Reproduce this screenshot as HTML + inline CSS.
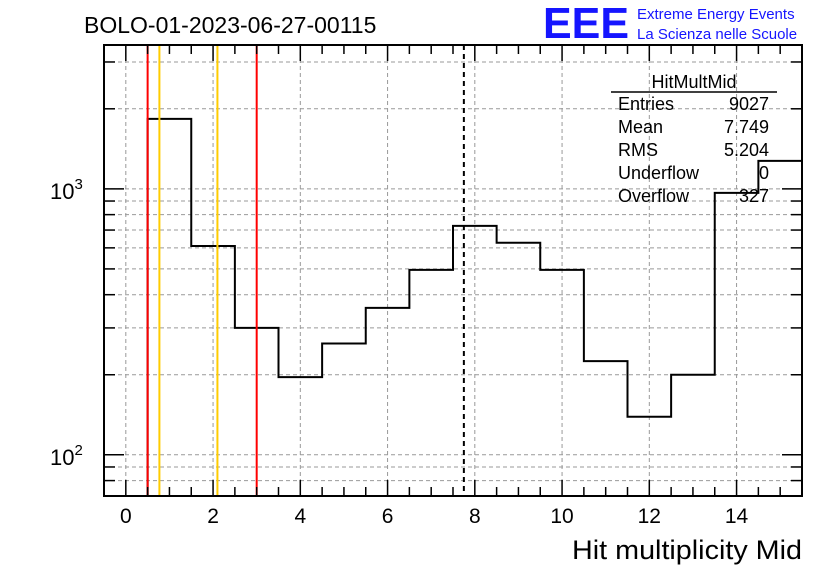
<!DOCTYPE html>
<html><head><meta charset="utf-8"><style>
body{margin:0;background:#fff;}
svg{display:block;font-family:"Liberation Sans",sans-serif;}
</style></head><body>
<svg id="c" width="836" height="572" viewBox="0 0 836 572">
<text x="84" y="33" font-size="23">BOLO-01-2023-06-27-00115</text>
<text x="543" y="38" font-size="44" font-weight="bold" fill="#1515ff" textLength="86" lengthAdjust="spacingAndGlyphs">EEE</text>
<text x="637" y="19" font-size="15" fill="#1515ff">Extreme Energy Events</text>
<text x="637" y="39" font-size="15" fill="#1515ff">La Scienza nelle Scuole</text>
<g id="grid"></g><g id="marks"></g><g id="axes"></g>
<g font-size="18">
<text x="694" y="88" text-anchor="middle">HitMultMid</text>
<line x1="611" y1="92" x2="777" y2="92" stroke="#000" stroke-width="1.5"/>
<text x="618" y="110">Entries</text><text x="769" y="110" text-anchor="end">9027</text>
<text x="618" y="133">Mean</text><text x="769" y="133" text-anchor="end">7.749</text>
<text x="618" y="156">RMS</text><text x="769" y="156" text-anchor="end">5.204</text>
<text x="618" y="179">Underflow</text><text x="769" y="179" text-anchor="end">0</text>
<text x="618" y="202">Overflow</text><text x="769" y="202" text-anchor="end">327</text>
</g>
<text x="572" y="559" font-size="27" textLength="230" lengthAdjust="spacingAndGlyphs">Hit multiplicity Mid</text>
</svg>
<script>
const binLows=[-0.5,0.5,1.5,2.5,3.5,4.5,5.5,6.5,7.5,8.5,9.5,10.5,11.5,12.5,13.5,14.5];
const counts=[0,1833,610,300,196,262,357,496,726,627,496,225,139,200,966,1274];
const xTicks=[0,2,4,6,8,10,12,14];
const redLines=[0.5,3.0];
const orangeLines=[0.77,2.1];
const meanValue=7.749;
const X0=104,X1=802,Y0=45,Y1=496,xmin=-0.5,xmax=15.5,lmin=Math.log10(70),lmax=Math.log10(3475);
const sx=v=>X0+(v-xmin)/(xmax-xmin)*(X1-X0);
const sy=v=>Y1-(Math.log10(v)-lmin)/(lmax-lmin)*(Y1-Y0);
const NS="http://www.w3.org/2000/svg";
function mk(t,a,p){const e=document.createElementNS(NS,t);for(const k in a)e.setAttribute(k,a[k]);p.appendChild(e);return e;}
const grid=document.getElementById('grid'),marks=document.getElementById('marks'),axes=document.getElementById('axes');
xTicks.forEach(t=>{const l=mk('line',{x1:sx(t),x2:sx(t),y1:Y0,y2:Y1,stroke:'#999','stroke-dasharray':'4,3'},grid);

});
const yLevels=[];for(let d=1;d<=3;d++)for(let m=1;m<10;m++){const v=m*Math.pow(10,d);if(v>=70&&v<=3475)yLevels.push(v);}
yLevels.forEach(v=>{const l=mk('line',{x1:X0,x2:X1,y1:sy(v),y2:sy(v),stroke:'#999','stroke-dasharray':'4,3'},grid);


const big=(v===100||v===1000);
mk('line',{x1:X0,x2:X0+(big?20:11),y1:sy(v),y2:sy(v),stroke:'#000','stroke-width':1.5},axes);
mk('line',{x1:X1,x2:X1-(big?20:11),y1:sy(v),y2:sy(v),stroke:'#000','stroke-width':1.5},axes);});
let d='';const w=1;
binLows.forEach((lo,i)=>{const y=counts[i]>0?sy(counts[i]):Y1;const yy=Math.min(y,Y1);
d+=(i===0?'M'+sx(lo)+','+yy:' L'+sx(lo)+','+yy)+' L'+sx(lo+w)+','+yy;});
const h=mk('path',{d:d,fill:'none',stroke:'#000','stroke-width':2},marks);


redLines.forEach(v=>{const l=mk('line',{x1:sx(v),x2:sx(v),y1:Y0,y2:Y1,stroke:'#ff0000','stroke-width':2},marks);

});
orangeLines.forEach(v=>{const l=mk('line',{x1:sx(v),x2:sx(v),y1:Y0,y2:Y1,stroke:'#ffcc00','stroke-width':2},marks);

});
const ml=mk('line',{x1:sx(meanValue),x2:sx(meanValue),y1:Y0,y2:Y1,stroke:'#000','stroke-width':2,'stroke-dasharray':'5,4'},marks);


const fr=mk('rect',{x:X0,y:Y0,width:X1-X0,height:Y1-Y0,fill:'none',stroke:'#000','stroke-width':2},axes);


for(let t=-0.5;t<=15.5;t+=0.5){const big=Math.abs(t%2)<1e-9;const L=big?16:9;
mk('line',{x1:sx(t),x2:sx(t),y1:Y1,y2:Y1-L,stroke:'#000','stroke-width':1.5},axes);
mk('line',{x1:sx(t),x2:sx(t),y1:Y0,y2:Y0+L,stroke:'#000','stroke-width':1.5},axes);}
xTicks.forEach(t=>{const tx=mk('text',{x:sx(t),y:523,'font-size':21,'text-anchor':'middle'},axes);tx.textContent=t;

});
[[100,'2'],[1000,'3']].forEach(([v,e])=>{const tx=mk('text',{x:50,y:sy(v)+10,'font-size':22},axes);
tx.innerHTML='10<tspan dy="-10" font-size="15">'+e+'</tspan>';

});
</script>
</body></html>
